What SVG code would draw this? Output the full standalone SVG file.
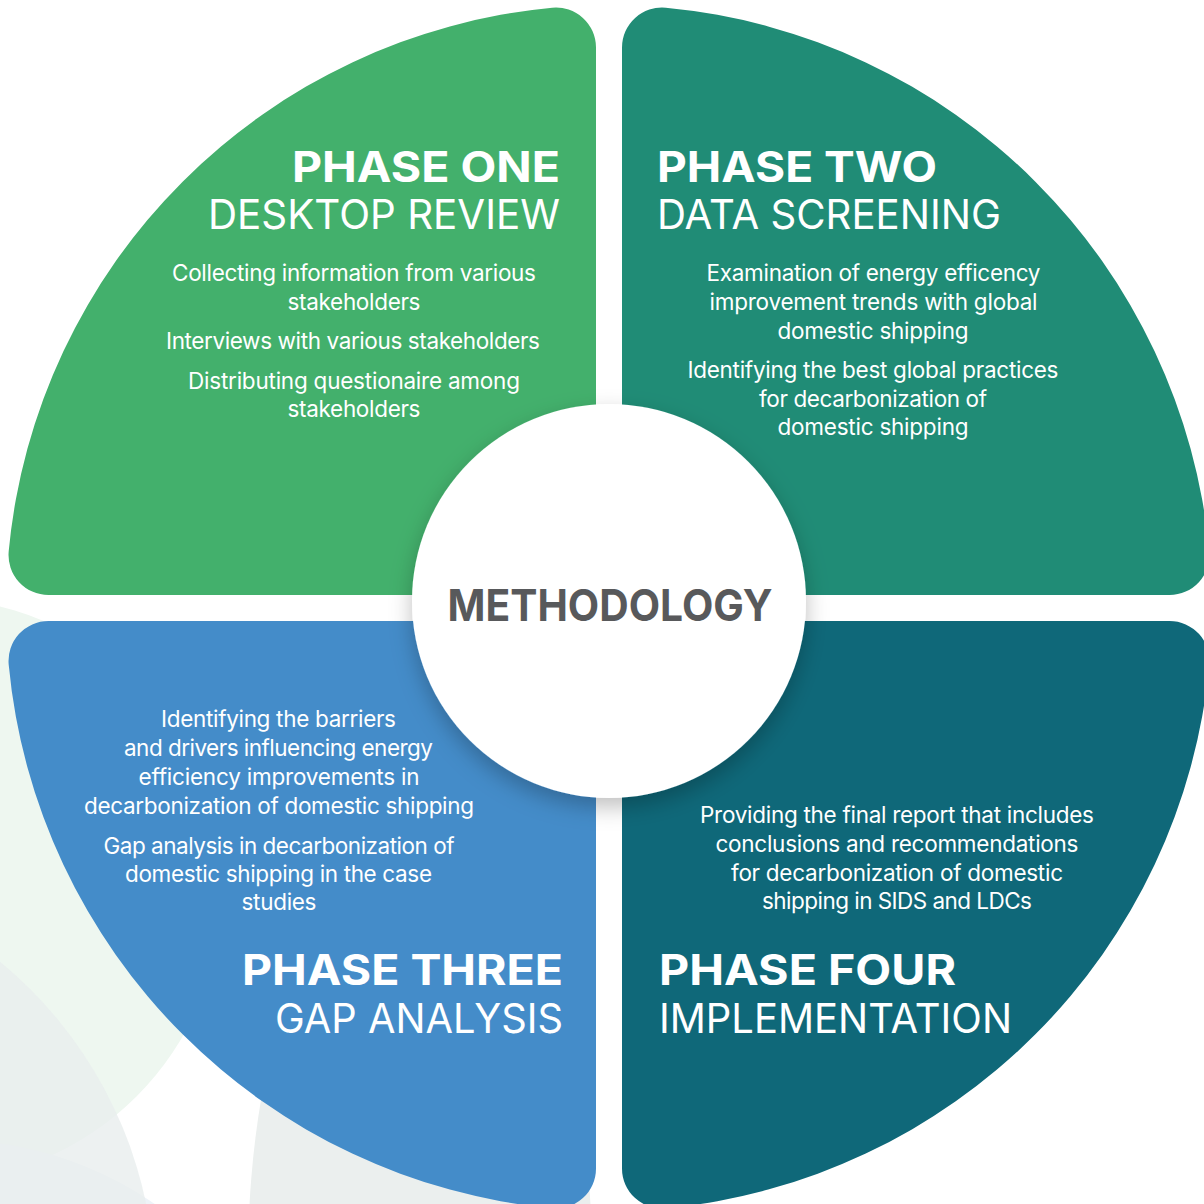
<svg xmlns="http://www.w3.org/2000/svg" width="1204" height="1204" viewBox="0 0 1204 1204">
  <defs>
    <style>
      .title-b { font-family: Inter, "Liberation Sans", sans-serif; font-weight: 700; font-size: 42px; fill: #ffffff; }
      .title-r { font-family: Inter, "Liberation Sans", sans-serif; font-weight: 400; font-size: 41px; fill: #ffffff; }
      .body { font-family: Inter, "Liberation Sans", sans-serif; font-weight: 400; font-size: 22.5px; fill: #ffffff; text-anchor: middle; }
      .hub { font-family: Inter, "Liberation Sans", sans-serif; font-weight: 700; font-size: 44px; fill: #58595b; text-anchor: middle; }
    </style>
    <!-- one quarter of the ring; the others are mirrored copies -->
    <path id="quarter" d="M596,595 L596,47.5 A40,40 0 0 0 552.2,7.7 A603,603 0 0 0 8.7,551.2 A40,40 0 0 0 48.5,595 Z"/>
    <filter id="hubShadow" x="-20%" y="-20%" width="140%" height="150%">
      <feDropShadow dx="0" dy="9" stdDeviation="11" flood-color="#000000" flood-opacity="0.25"/>
    </filter>
  </defs>

  <rect width="1204" height="1204" fill="#ffffff"/>

  <!-- soft decorative discs behind the ring -->
  <g id="background">
    <circle cx="-70" cy="890" r="292" fill="#eef7f0"/>
    <circle cx="-50" cy="1500" r="360" fill="#eef3f8"/>
    <circle cx="-270" cy="1290" r="425" fill="#e9eeed" opacity="0.8"/>
    <ellipse cx="420" cy="1260" rx="172" ry="420" fill="#ebefee"/>
  </g>

  <g id="connectors"/>

  <g id="phase-one">
    <use href="#quarter" fill="#43b06c"/>
    <text class="title-b" x="560" y="182" text-anchor="end" textLength="268" lengthAdjust="spacingAndGlyphs">PHASE ONE</text>
    <text class="title-r" x="560" y="229" text-anchor="end" textLength="352" lengthAdjust="spacingAndGlyphs">DESKTOP REVIEW</text>
    <text class="body" x="354" y="281" textLength="364" lengthAdjust="spacing">Collecting information from various</text>
    <text class="body" x="354" y="310" textLength="133" lengthAdjust="spacing">stakeholders</text>
    <text class="body" x="353" y="349" textLength="374" lengthAdjust="spacing">Interviews with various stakeholders</text>
    <text class="body" x="354" y="389" textLength="332" lengthAdjust="spacing">Distributing questionaire among</text>
    <text class="body" x="354" y="417" textLength="133" lengthAdjust="spacing">stakeholders</text>
  </g>

  <g id="phase-two">
    <use href="#quarter" transform="translate(1218,0) scale(-1,1)" fill="#208c76"/>
    <text class="title-b" x="657" y="182" textLength="280" lengthAdjust="spacingAndGlyphs">PHASE TWO</text>
    <text class="title-r" x="657" y="229" textLength="344" lengthAdjust="spacingAndGlyphs">DATA SCREENING</text>
    <text class="body" x="873.5" y="281" textLength="334" lengthAdjust="spacing">Examination of energy efficency</text>
    <text class="body" x="873.5" y="310" textLength="328" lengthAdjust="spacing">improvement trends with global</text>
    <text class="body" x="873" y="339" textLength="191" lengthAdjust="spacing">domestic shipping</text>
    <text class="body" x="873" y="378" textLength="371" lengthAdjust="spacing">Identifying the best global practices</text>
    <text class="body" x="873" y="406.5" textLength="228" lengthAdjust="spacing">for decarbonization of</text>
    <text class="body" x="873" y="435" textLength="191" lengthAdjust="spacing">domestic shipping</text>
  </g>

  <g id="phase-three">
    <use href="#quarter" transform="translate(0,1216) scale(1,-1)" fill="#448cc9"/>
    <text class="body" x="278.5" y="727" textLength="235" lengthAdjust="spacing">Identifying the barriers</text>
    <text class="body" x="278.5" y="756" textLength="309" lengthAdjust="spacing">and drivers influencing energy</text>
    <text class="body" x="279" y="785" textLength="281" lengthAdjust="spacing">efficiency improvements in</text>
    <text class="body" x="279" y="814" textLength="390" lengthAdjust="spacing">decarbonization of domestic shipping</text>
    <text class="body" x="279" y="853.5" textLength="351" lengthAdjust="spacing">Gap analysis in decarbonization of</text>
    <text class="body" x="278.5" y="882" textLength="307" lengthAdjust="spacing">domestic shipping in the case</text>
    <text class="body" x="279" y="910" textLength="75" lengthAdjust="spacing">studies</text>
    <text class="title-b" x="563" y="985" text-anchor="end" textLength="321" lengthAdjust="spacingAndGlyphs">PHASE THREE</text>
    <text class="title-r" x="563" y="1033" text-anchor="end" textLength="288" lengthAdjust="spacingAndGlyphs">GAP ANALYSIS</text>
  </g>

  <g id="phase-four">
    <use href="#quarter" transform="translate(1218,1216) scale(-1,-1)" fill="#0f6879"/>
    <text class="body" x="897" y="823" textLength="394" lengthAdjust="spacing">Providing the final report that includes</text>
    <text class="body" x="897" y="852" textLength="363" lengthAdjust="spacing">conclusions and recommendations</text>
    <text class="body" x="897" y="881" textLength="332" lengthAdjust="spacing">for decarbonization of domestic</text>
    <text class="body" x="897" y="909" textLength="270" lengthAdjust="spacing">shipping in SIDS and LDCs</text>
    <text class="title-b" x="659" y="985" textLength="297" lengthAdjust="spacingAndGlyphs">PHASE FOUR</text>
    <text class="title-r" x="659" y="1033" textLength="353" lengthAdjust="spacingAndGlyphs">IMPLEMENTATION</text>
  </g>

  <g id="methodology">
    <circle cx="609" cy="601" r="197" fill="#ffffff" filter="url(#hubShadow)"/>
    <text class="hub" x="610" y="621" textLength="325" lengthAdjust="spacingAndGlyphs">METHODOLOGY</text>
  </g>
</svg>
